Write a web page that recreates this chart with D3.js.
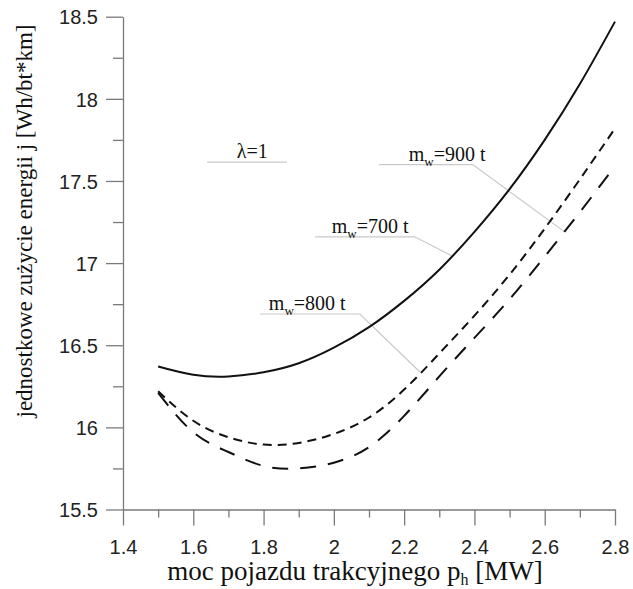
<!DOCTYPE html>
<html>
<head>
<meta charset="utf-8">
<script src="https://cdn.jsdelivr.net/npm/d3@7"></script>
<style>
  body { margin: 0; background: #fff; }
  svg { display: block; }
</style>
</head>
<body>
<svg id="chart"></svg>
<script>
// moc pojazdu (MW)
const powerMW = [1.5, 1.6, 1.7, 1.8, 1.9, 2.0, 2.1, 2.2, 2.3, 2.4, 2.5, 2.6, 2.7, 2.8];

// jednostkowe zuzycie energii
const energy700 = [16.37, 16.32, 16.31, 16.335, 16.39, 16.485, 16.61, 16.77, 16.96, 17.19, 17.45, 17.75, 18.09, 18.47];
const energy800 = [16.22, 16.04, 15.94, 15.895, 15.905, 15.96, 16.06, 16.23, 16.45, 16.68, 16.93, 17.21, 17.51, 17.82];
const energy900 = [16.21, 15.97, 15.85, 15.765, 15.75, 15.785, 15.88, 16.07, 16.31, 16.545, 16.78, 17.04, 17.31, 17.59];

const xTicks = [1.4, 1.6, 1.8, 2.0, 2.2, 2.4, 2.6, 2.8];
const xMinorTicks = [1.5, 1.7, 1.9, 2.1, 2.3, 2.5, 2.7];
const yTicks = [15.5, 16, 16.5, 17, 17.5, 18, 18.5];
const yMinorTicks = [15.75, 16.25, 16.75, 17.25, 17.75, 18.25];

// opisy krzywych z liniami odniesienia
const labelText = ["m", "m", "m", "λ=1"];
const labelSub = ["w", "w", "w", ""];
const labelRest = ["=900 t", "=700 t", "=800 t", ""];
const labelLine = [[2.128, 2.395, 17.60], [1.946, 2.230, 17.16], [1.790, 2.074, 16.69], [1.639, 1.866, 17.615]];
const labelTextX = [2.213, 1.994, 1.815, 1.768];
const labelTarget = [[2.657, 17.19], [2.335, 17.045], [2.245, 16.337], null];

const width = 633, height = 589;
const margin = { top: 16.7, right: 18, bottom: 79.5, left: 123 };
const serif = "'Liberation Serif', 'Times New Roman', 'DejaVu Serif', serif";
const sans = "'Liberation Sans', Arial, sans-serif";

const svg = d3.select("#chart").attr("width", width).attr("height", height);

const x = d3.scaleLinear().domain([1.4, 2.8]).range([margin.left, width - margin.right]);
const y = d3.scaleLinear().domain([15.5, 18.5]).range([height - margin.bottom, margin.top]);

const axisColor = "#7a7a7a";

// minor ticks
svg.append("g")
  .attr("transform", `translate(0,${y(15.5)})`)
  .call(d3.axisBottom(x).tickValues(xMinorTicks).tickSize(8).tickFormat(""))
  .call(g => g.select(".domain").remove());
svg.append("g")
  .attr("transform", `translate(${x(1.4)},0)`)
  .call(d3.axisLeft(y).tickValues(yMinorTicks).tickSize(10).tickFormat(""))
  .call(g => g.select(".domain").remove());

// main axes
svg.append("g")
  .attr("transform", `translate(0,${y(15.5)})`)
  .call(d3.axisBottom(x).tickValues(xTicks).tickSize(16).tickSizeOuter(0).tickPadding(14)
    .tickFormat(d => d3.format("")(d)));
const yAxis = svg.append("g")
  .attr("transform", `translate(${x(1.4)},0)`)
  .call(d3.axisLeft(y).tickValues(yTicks).tickSize(17).tickSizeOuter(0).tickPadding(8)
    .tickFormat(d => d3.format("")(d)));

svg.selectAll(".domain").attr("stroke", axisColor).attr("stroke-width", 1.3);
svg.selectAll(".tick line").attr("stroke", axisColor).attr("stroke-width", 1.3);
svg.selectAll(".tick text")
  .attr("font-family", sans)
  .attr("font-size", 20)
  .attr("fill", "#222");
yAxis.selectAll(".tick text").attr("dy", "0.36em");

// leader lines and labels
const leaderColor = "#c9c9c9";
labelText.forEach((t, i) => {
  const [x0, x1, ly] = labelLine[i];
  const pts = [[x(x0), y(ly)], [x(x1), y(ly)]];
  if (labelTarget[i]) pts.push([x(labelTarget[i][0]), y(labelTarget[i][1])]);
  svg.append("path")
    .attr("d", d3.line()(pts))
    .attr("fill", "none")
    .attr("stroke", leaderColor)
    .attr("stroke-width", 1.2);

  const txt = svg.append("text")
    .attr("font-family", serif)
    .attr("fill", "#111")
    .attr("x", x(labelTextX[i]))
    .attr("y", y(ly) - 4)
    .attr("font-size", 20)
    .attr("text-anchor", i === 3 ? "middle" : "start");
  txt.append("tspan").text(t);
  if (labelSub[i]) {
    txt.append("tspan").attr("font-size", 13).attr("dy", 5).text(labelSub[i]);
    txt.append("tspan").attr("dy", -5).text(labelRest[i]);
  }
});

// curves
const series = [
  { values: energy700, dash: null },
  { values: energy800, dash: "9,6" },
  { values: energy900, dash: "16,12" }
];
const line = d3.line()
  .x((d, i) => x(powerMW[i]))
  .y(d => y(d))
  .curve(d3.curveNatural);

series.forEach(s => {
  svg.append("path")
    .attr("d", line(s.values))
    .attr("fill", "none")
    .attr("stroke", "#111")
    .attr("stroke-width", 2)
    .attr("stroke-dasharray", s.dash);
});

// axis titles
const xt = svg.append("text")
  .attr("font-family", serif)
  .attr("fill", "#111")
  .attr("x", 355)
  .attr("y", 580)
  .attr("text-anchor", "middle")
  .attr("font-size", 27);
xt.append("tspan").text("moc pojazdu trakcyjnego p");
xt.append("tspan").attr("font-size", 16).attr("dy", 5).text("h");
xt.append("tspan").attr("dy", -5).text(" [MW]");

svg.append("text")
  .attr("font-family", serif)
  .attr("fill", "#111")
  .attr("transform", "translate(32,221) rotate(-90)")
  .attr("text-anchor", "middle")
  .attr("font-size", 23)
  .text("jednostkowe zużycie energii j [Wh/bt*km]");
</script>
</body>
</html>
